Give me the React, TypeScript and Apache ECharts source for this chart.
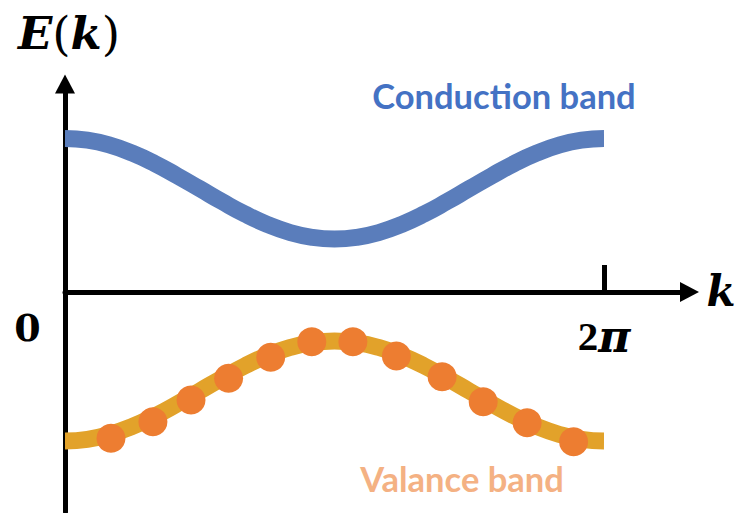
import React, { useEffect, useRef } from "react";
import * as echarts from "echarts";

// k (wave number, rad) sample positions along the bands
const kValues = [
  0, 0.2618, 0.5236, 0.7854, 1.0472, 1.309, 1.5708, 1.8326, 2.0944, 2.3562, 2.618, 2.8798,
  3.1416, 3.4034, 3.6652, 3.927, 4.1888, 4.4506, 4.7124, 4.9742, 5.236, 5.4978, 5.7596,
  6.0214, 6.2832,
];
// Conduction band energy E(k)
const conductionE = [
  1.535, 1.518, 1.468, 1.388, 1.284, 1.162, 1.033, 0.903, 0.781, 0.677, 0.597, 0.547, 0.53,
  0.547, 0.597, 0.677, 0.781, 0.903, 1.033, 1.162, 1.284, 1.388, 1.468, 1.518, 1.535,
];
// Valence band energy E(k)
const valenceE = [
  -1.49, -1.473, -1.423, -1.344, -1.24, -1.119, -0.99, -0.861, -0.74, -0.636, -0.557, -0.507,
  -0.49, -0.507, -0.557, -0.636, -0.74, -0.861, -0.99, -1.119, -1.24, -1.344, -1.423, -1.473,
  -1.49,
];
// Occupied states (dots) on the valence band
const dotK = [0.536, 1.025, 1.469, 1.907, 2.398, 2.877, 3.356, 3.863, 4.396, 4.875, 5.387, 5.929];
const dotE = [-1.463, -1.297, -1.08, -0.863, -0.653, -0.497, -0.497, -0.64, -0.847, -1.097, -1.307, -1.497];

const kTicks = [6.2832];

export default function App() {
  const ref = useRef<HTMLDivElement>(null);
  useEffect(() => {
    if (!ref.current) return;
    const chart = echarts.init(ref.current, undefined, { renderer: "svg" });
    const conduction = kValues.map((k, i) => [k, conductionE[i]]);
    const valence = kValues.map((k, i) => [k, valenceE[i]]);
    const dots = dotK.map((k, i) => [k, dotE[i]]);
    chart.setOption({
      animation: false,
      backgroundColor: "#ffffff",
      grid: {
        left: 65,
        right: 53.5,
        top: 84,
        bottom: 1,
        containLabel: false,
        outerBoundsMode: "none",
      },
      xAxis: {
        type: "value",
        min: 0,
        max: 7.28,
        splitLine: { show: false },
        axisLine: {
          show: true,
          onZero: true,
          symbol: ["none", "triangle"],
          symbolSize: [20, 19],
          lineStyle: { color: "#000", width: 5 },
        },
        axisTick: {
          show: true,
          inside: true,
          length: 27,
          customValues: kTicks,
          lineStyle: { color: "#000", width: 5 },
        },
        axisLabel: { show: false },
      },
      yAxis: {
        type: "value",
        min: -2.2,
        max: 2.08,
        splitLine: { show: false },
        axisTick: { show: false },
        axisLabel: { show: false },
        axisLine: {
          show: true,
          onZero: false,
          symbol: ["none", "triangle"],
          symbolSize: [20, 19],
          lineStyle: { color: "#000", width: 5 },
        },
      },
      series: [
        {
          name: "Conduction band",
          type: "line",
          data: conduction,
          smooth: true,
          showSymbol: false,
          lineStyle: { color: "#5a7dbb", width: 17, cap: "butt" },
          z: 3,
        },
        {
          name: "Valance band",
          type: "line",
          data: valence,
          smooth: true,
          showSymbol: false,
          lineStyle: { color: "#e2a22a", width: 17, cap: "butt" },
          z: 3,
        },
        {
          name: "States",
          type: "scatter",
          data: dots,
          symbol: "circle",
          symbolSize: 29,
          itemStyle: { color: "#ed7d31", opacity: 1 },
          z: 4,
        },
      ],
      graphic: [
        {
          type: "text",
          x: 69,
          y: 33,
          style: {
            text: "{e|E}{p|(}{e|k}{p|)}",
            align: "center",
            verticalAlign: "middle",
            rich: {
              e: {
                fontFamily: "DejaVu Serif",
                fontWeight: "bold",
                fontStyle: "italic",
                fontSize: 45,
                fill: "#000",
              },
              p: { fontFamily: "DejaVu Serif", fontSize: 47, fill: "#000" },
            },
          },
        },
        {
          type: "text",
          x: 27.5,
          y: 327.5,
          style: {
            text: "0",
            align: "center",
            verticalAlign: "middle",
            font: "bold 38px 'DejaVu Serif'",
            fill: "#000",
          },
        },
        {
          type: "text",
          x: 604,
          y: 336,
          style: {
            text: "{a|2}{b|π}",
            align: "center",
            verticalAlign: "middle",
            rich: {
              a: { fontFamily: "Liberation Serif", fontWeight: "bold", fontSize: 41, fill: "#000" },
              b: {
                fontFamily: "DejaVu Serif",
                fontWeight: "bold",
                fontStyle: "italic",
                fontSize: 44,
                fill: "#000",
              },
            },
          },
        },
        {
          type: "text",
          x: 721,
          y: 291,
          style: {
            text: "k",
            align: "center",
            verticalAlign: "middle",
            font: "italic bold 42px 'DejaVu Serif'",
            fill: "#000",
          },
        },
        {
          type: "text",
          x: 504,
          y: 95,
          style: {
            text: "Conduction band",
            align: "center",
            verticalAlign: "middle",
            font: "bold 34.5px Lato",
            fill: "#4472c4",
          },
        },
        {
          type: "text",
          x: 462,
          y: 478,
          style: {
            text: "Valance band",
            align: "center",
            verticalAlign: "middle",
            font: "bold 34.5px Lato",
            fill: "#f4b183",
          },
        },
      ],
    });
    return () => chart.dispose();
  }, []);
  return (
    <div
      ref={ref}
      style={{ position: "fixed", left: 0, top: 0, width: 743, height: 513, background: "#fff" }}
    />
  );
}
